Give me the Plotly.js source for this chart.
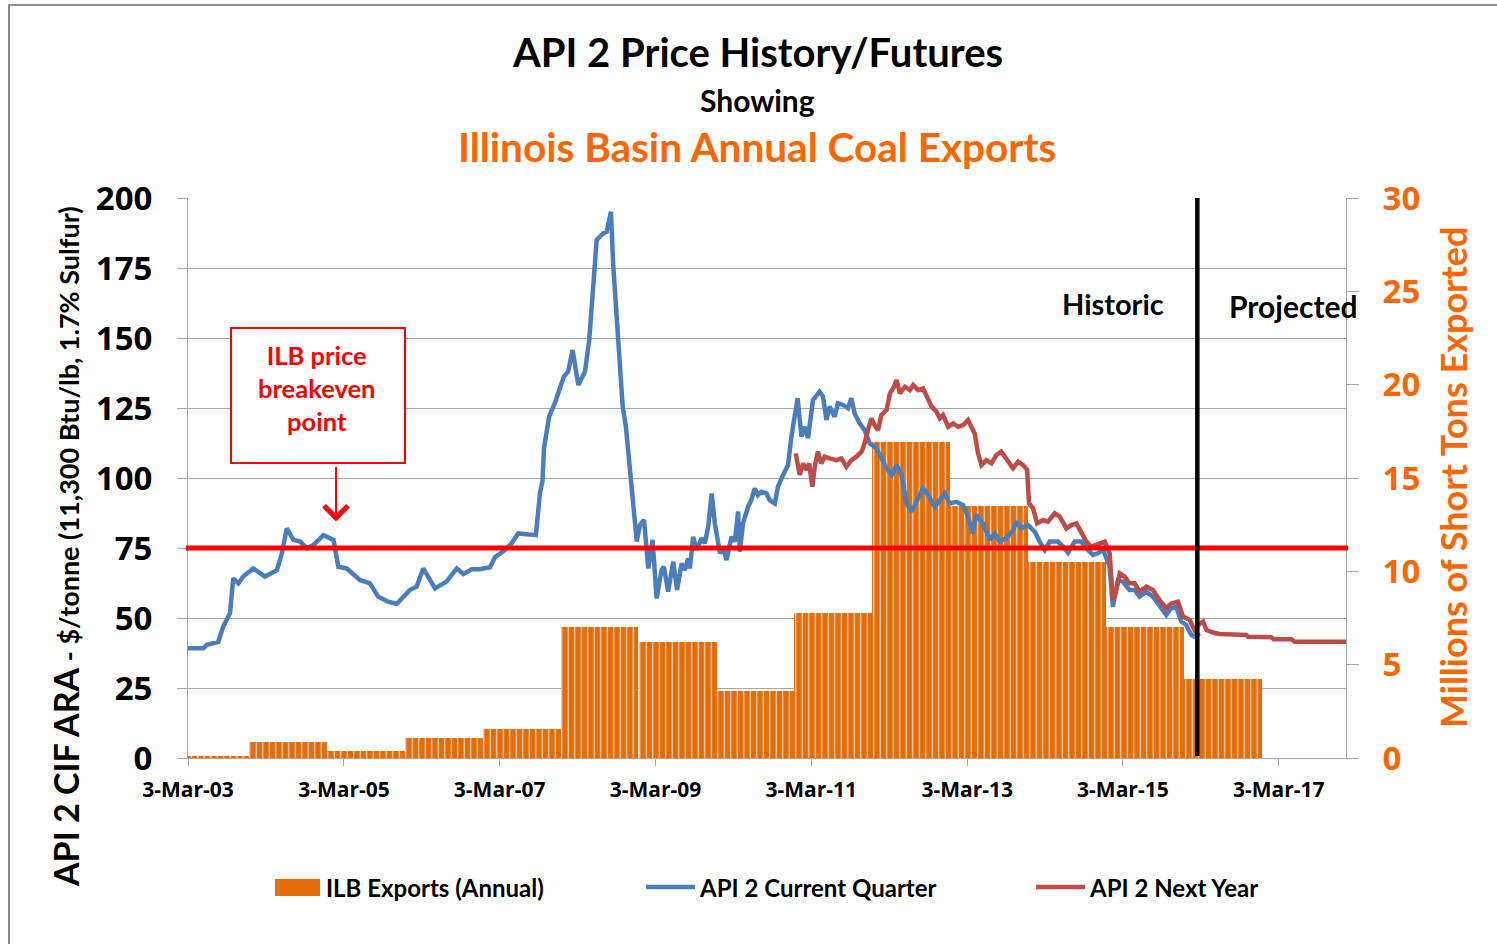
<!DOCTYPE html>
<html>
<head>
<meta charset="utf-8">
<script src="https://cdn.plot.ly/plotly-3.0.1.min.js"></script>
<style>
  html, body { margin: 0; padding: 0; background: #ffffff; }
  #chart { width: 1497px; height: 944px; }
</style>
</head>
<body>
<div id="chart"></div>
<script>
// ---------- DATA ----------
// ILB annual coal exports, millions of short tons
const exportYears  = [2003, 2004, 2005, 2006, 2007, 2008, 2009, 2010, 2011, 2012, 2013, 2014, 2015, 2016];
const exportValues = [0.12, 0.84, 0.37, 1.05, 1.55, 7.02, 6.20, 3.59, 7.75, 16.91, 13.50, 10.52, 7.03, 4.23];

// API 2 Current Quarter ($/tonne)
const currentQtrDates = [
  '2003-03-03','2003-05-14','2003-05-30','2003-06-29','2003-07-23','2003-08-15','2003-09-16','2003-10-01','2003-10-25','2003-11-17',
  '2004-01-03','2004-02-27','2004-04-23','2004-05-16','2004-06-08','2004-07-09','2004-08-10','2004-09-10','2004-10-11','2004-11-27',
  '2005-01-13','2005-02-05','2005-03-16','2005-05-17','2005-07-03','2005-08-11','2005-09-27','2005-11-05',
  '2006-01-06','2006-02-07','2006-03-10','2006-05-04','2006-06-27','2006-08-14','2006-09-14','2006-10-23','2006-12-01',
  '2007-01-17','2007-02-09','2007-03-28','2007-04-28','2007-05-29','2007-07-07','2007-08-20','2007-09-08','2007-09-20','2007-09-27',
  '2007-10-21','2007-11-17','2007-12-11','2007-12-29',
  '2008-01-18','2008-02-08','2008-03-06','2008-04-06','2008-04-26','2008-05-12','2008-05-31','2008-07-01','2008-07-17','2008-08-06',
  '2008-08-16','2008-09-09','2008-09-30','2008-10-15','2008-10-30','2008-11-11','2008-11-17','2008-12-05','2008-12-20',
  '2009-01-08','2009-01-28','2009-02-17','2009-03-08','2009-03-31','2009-04-11','2009-05-01','2009-05-25','2009-06-12','2009-07-03',
  '2009-07-18','2009-08-03','2009-08-11','2009-08-26','2009-09-11','2009-10-05','2009-10-20','2009-11-05','2009-11-21','2009-12-06','2009-12-30',
  '2010-01-14','2010-01-30','2010-02-22','2010-03-10','2010-03-25','2010-04-02','2010-04-17','2010-05-11','2010-05-26','2010-06-11',
  '2010-06-26','2010-07-12','2010-08-05','2010-08-20','2010-09-13','2010-09-28','2010-10-22','2010-11-14','2010-11-30','2010-12-16','2010-12-29',
  '2011-01-16','2011-02-01','2011-02-16','2011-03-11','2011-04-11','2011-04-27','2011-05-13','2011-05-28','2011-06-21','2011-07-06',
  '2011-07-30','2011-08-22','2011-09-07','2011-09-22','2011-10-16','2011-11-08','2011-12-02',
  '2012-01-02','2012-01-26','2012-02-19','2012-03-14','2012-04-06','2012-04-29','2012-05-23','2012-06-15','2012-07-09','2012-08-08',
  '2012-09-01','2012-10-02','2012-10-26','2012-11-18','2012-12-11',
  '2013-01-12','2013-02-12','2013-03-07','2013-03-28','2013-04-15','2013-05-16','2013-06-17','2013-07-10','2013-08-02','2013-09-03',
  '2013-10-04','2013-10-20','2013-11-12','2013-12-13',
  '2014-01-14','2014-02-06','2014-03-02','2014-03-25','2014-05-03','2014-05-26','2014-06-19','2014-07-20','2014-08-20','2014-09-13',
  '2014-10-14','2014-11-06','2014-11-30','2014-12-31',
  '2015-01-15','2015-02-08','2015-03-03','2015-04-03','2015-04-27','2015-05-20','2015-06-21','2015-07-22','2015-08-22','2015-09-22',
  '2015-10-16','2015-11-08','2015-12-02','2015-12-25',
  '2016-01-18','2016-02-02','2016-02-27'
];
const currentQtrValues = [
  39.2,39.2,40.4,41.0,41.5,46.9,51.7,64.2,62.4,64.8,
  67.7,64.8,67.1,73.1,82.0,77.9,77.3,74.9,76.1,79.6,
  77.9,68.3,67.7,63.6,62.4,57.6,55.8,55.0,
  60.0,61.2,67.7,60.6,63.0,67.7,65.7,67.4,67.4,
  68.1,71.7,74.3,76.7,80.2,80.0,79.6,94.5,99.0,110.6,
  121.9,126.7,132.0,136.2,
  138.0,145.7,133.2,138.0,149.3,163.6,185.0,187.4,188.0,195.1,
  176.7,149.3,125.5,118.3,105.2,98.1,89.8,77.3,83.2,
  85.0,67.7,77.9,57.0,67.1,68.3,59.4,70.1,60.0,69.5,
  67.1,71.3,67.7,79.0,74.3,78.5,76.7,82.6,94.5,83.8,73.1,
  74.9,70.7,79.0,77.3,88.0,73.7,83.8,89.8,92.1,96.3,
  93.9,95.1,94.5,92.1,90.9,96.9,101.1,104.6,114.8,121.9,128.5,
  114.8,118.3,114.2,127.9,130.8,129.1,120.7,125.5,121.9,126.7,
  126.1,124.9,128.5,123.1,119.5,117.1,112.4,
  110.6,107.0,103.5,101.1,104.6,101.1,90.9,88.0,92.1,96.3,
  93.9,89.8,92.1,94.5,90.9,
  91.5,90.3,86.2,80.2,86.8,83.8,77.9,80.2,77.3,78.5,
  81.4,84.4,82.0,83.2,
  80.8,77.3,74.3,77.3,77.3,75.5,73.3,77.3,77.3,74.9,
  72.5,73.1,74.3,68.3,
  54.0,63.6,63.0,60.0,60.0,57.6,59.4,57.6,54.6,51.1,
  53.5,54.0,48.7,47.5,
  43.9,43.3,44.5
];

// API 2 Next Year ($/tonne)
const nextYearDates = [
  '2010-12-20',
  '2011-01-08','2011-01-24','2011-02-09','2011-02-21','2011-03-08','2011-03-19','2011-04-03','2011-04-19','2011-05-05','2011-05-28',
  '2011-06-29','2011-07-22','2011-08-15','2011-09-07','2011-10-01','2011-10-25','2011-11-08','2011-11-24','2011-12-10','2011-12-25',
  '2012-01-10','2012-01-26','2012-02-19','2012-03-06','2012-03-25','2012-04-06','2012-04-22','2012-05-15','2012-06-07','2012-06-23',
  '2012-07-16','2012-08-08','2012-08-27','2012-09-17','2012-10-10','2012-10-26','2012-11-10','2012-12-04','2012-12-27',
  '2013-01-20','2013-02-12','2013-03-07','2013-04-07','2013-04-23','2013-05-09','2013-06-01','2013-06-25','2013-07-18','2013-08-10',
  '2013-09-03','2013-10-04','2013-10-28','2013-11-20','2013-12-09','2013-12-18',
  '2014-01-06','2014-01-25','2014-02-22','2014-03-17','2014-04-17','2014-05-11','2014-06-11','2014-07-04','2014-07-28','2014-08-20',
  '2014-09-13','2014-10-06','2014-10-30','2014-11-22','2014-12-08','2014-12-31',
  '2015-01-15','2015-02-01','2015-02-16','2015-03-11','2015-04-03','2015-04-27','2015-05-20','2015-06-21','2015-07-22','2015-08-22',
  '2015-09-22','2015-10-16','2015-11-16','2015-12-10',
  '2016-01-10','2016-02-02','2016-02-27','2016-03-13','2016-03-29','2016-04-28','2016-05-30','2016-10-02','2016-10-10',
  '2017-01-27','2017-02-07','2017-05-01','2017-05-16','2018-01-15'
];
const nextYearValues = [
  108.8,
  101.1,105.2,102.9,105.2,96.9,104.0,109.4,105.2,107.6,107.0,
  106.4,107.0,104.0,106.4,107.6,109.4,112.4,117.1,121.3,118.9,
  117.1,122.5,124.3,130.2,132.6,135.0,130.2,132.6,131.4,133.2,
  131.4,132.0,129.1,125.5,123.7,121.3,122.5,118.3,119.5,
  118.3,118.9,120.7,115.9,108.8,104.6,106.4,105.2,108.2,109.4,
  107.0,103.5,105.8,104.6,102.9,90.9,
  89.1,83.8,85.0,84.4,87.4,86.2,82.0,83.2,83.8,80.8,
  77.3,75.5,76.1,76.7,77.3,73.1,
  56.4,60.0,66.0,64.8,62.4,62.4,59.4,61.2,60.0,56.4,
  53.5,55.2,55.8,50.5,
  49.3,45.7,48.1,48.7,45.7,44.8,44.3,43.9,43.3,
  43.1,42.4,42.4,41.5,41.5
];

const breakevenPrice = 75;
const historicEndDate = '2016-02-15';

// ---------- STYLE ----------
const barOrange = '#E46C0A';
const textOrange = '#FF6600';
const blue = '#4A7EBB';
const red = '#BE4B48';
const grid = '#A6A6A6';
const titleFont = 'Lato, "Open Sans", sans-serif';
const tickFontFam = '"Open Sans", "Noto Sans", sans-serif';
const DAY = 86400000;

const traces = [
  {
    type: 'bar', name: 'ILB Exports (Annual)',
    x: exportYears.map(y => y + '-01-01'),
    y: exportValues,
    width: 365 * DAY, offset: -18 * DAY,
    xaxis: 'x', yaxis: 'y',
    marker: {
      color: barOrange, line: { width: 0 },
      pattern: { shape: '|', fgcolor: '#FBE0C8', bgcolor: barOrange, size: 6.5, solidity: 0.18, fillmode: 'replace' }
    },
    hoverinfo: 'skip'
  },
  {
    type: 'scatter', mode: 'lines', name: 'API 2 Current Quarter',
    x: currentQtrDates, y: currentQtrValues, xaxis: 'x', yaxis: 'y2',
    line: { color: blue, width: 4.5 }
  },
  {
    type: 'scatter', mode: 'lines', name: 'API 2 Next Year',
    x: nextYearDates, y: nextYearValues, xaxis: 'x', yaxis: 'y2',
    line: { color: red, width: 4.5 }
  }
];

// helpers for pixel-like paper placement of decorations
const L = 188, T = 198, W = 1158, H = 560;
const px = v => (v - L) / W;
const py = v => (T + H - v) / H;

const annotations = [
  { text: 'API 2 Price History/Futures', xref: 'paper', yref: 'paper', x: px(757), y: py(52), showarrow: false,
    font: { family: titleFont, size: 40, weight: 700, color: '#000' }, xanchor: 'center', yanchor: 'middle' },
  { text: 'Showing', xref: 'paper', yref: 'paper', x: px(757), y: py(100), showarrow: false,
    font: { family: titleFont, size: 30, weight: 700, color: '#000' }, xanchor: 'center', yanchor: 'middle' },
  { text: 'Illinois Basin Annual Coal Exports', xref: 'paper', yref: 'paper', x: px(757), y: py(146), showarrow: false,
    font: { family: titleFont, size: 40.5, weight: 700, color: textOrange }, xanchor: 'center', yanchor: 'middle' },
  { text: 'API 2 CIF ARA<span style="font-size:27px"> - $/tonne (11,300 Btu/lb, 1.7% Sulfur)</span>',
    xref: 'paper', yref: 'paper', x: px(65), y: py(547), showarrow: false, textangle: -90,
    font: { family: titleFont, size: 34, weight: 700, color: '#000' }, xanchor: 'center', yanchor: 'middle' },
  { text: 'Millions of Short Tons Exported', xref: 'paper', yref: 'paper', x: px(1453), y: py(478), showarrow: false, textangle: -90,
    font: { family: titleFont, size: 36, weight: 700, color: textOrange }, xanchor: 'center', yanchor: 'middle' },
  { text: 'Historic', xref: 'paper', yref: 'paper', x: px(1113), y: py(303), showarrow: false,
    font: { family: titleFont, size: 29, weight: 700, color: '#000' }, xanchor: 'center', yanchor: 'middle' },
  { text: 'Projected', xref: 'paper', yref: 'paper', x: px(1293), y: py(306), showarrow: false,
    font: { family: titleFont, size: 30, weight: 700, color: '#000' }, xanchor: 'center', yanchor: 'middle' },
  { text: 'ILB price<br>breakeven<br>point', xref: 'paper', yref: 'paper', x: px(316), y: py(388), showarrow: false,
    font: { family: titleFont, size: 25.5, weight: 700, color: '#FF0000' }, xanchor: 'center', yanchor: 'middle', align: 'center' },
  { text: '', xref: 'x', yref: 'y2', x: '2005-01-25', y: 84.5, ax: 0, ay: -56, showarrow: true,
    arrowhead: 4, arrowsize: 2.3, arrowwidth: 2, arrowcolor: '#FF0000', standoff: 0 },
  // legend texts
  { text: 'ILB Exports (Annual)', xref: 'paper', yref: 'paper', x: px(324), y: py(887), showarrow: false,
    font: { family: titleFont, size: 24, weight: 700, color: '#000' }, xanchor: 'left', yanchor: 'middle' },
  { text: 'API 2 Current Quarter', xref: 'paper', yref: 'paper', x: px(697), y: py(887), showarrow: false,
    font: { family: titleFont, size: 24, weight: 700, color: '#000' }, xanchor: 'left', yanchor: 'middle' },
  { text: 'API 2 Next Year', xref: 'paper', yref: 'paper', x: px(1087), y: py(887), showarrow: false,
    font: { family: titleFont, size: 24, weight: 700, color: '#000' }, xanchor: 'left', yanchor: 'middle' }
];

const shapes = [
  // outer chart frame
  { type: 'rect', xref: 'paper', yref: 'paper', x0: px(9), x1: px(1510), y0: py(960), y1: py(5),
    line: { color: '#8C8C8C', width: 2 }, fillcolor: 'rgba(0,0,0,0)', layer: 'below' },
  // breakeven line
  { type: 'line', xref: 'paper', yref: 'y2', x0: px(186), x1: px(1348), y0: breakevenPrice, y1: breakevenPrice,
    line: { color: '#FF0000', width: 5 } },
  // historic / projected divider
  { type: 'line', xref: 'x', yref: 'paper', x0: historicEndDate, x1: historicEndDate, y0: py(756), y1: 1,
    line: { color: '#000000', width: 4.5 } },
  // breakeven callout box
  { type: 'rect', xref: 'paper', yref: 'paper', x0: px(231), x1: px(405), y0: py(463), y1: py(328),
    line: { color: '#FF0000', width: 2 }, fillcolor: '#ffffff' },
  // legend swatches
  { type: 'rect', xref: 'paper', yref: 'paper', x0: px(275), x1: px(320), y0: py(896), y1: py(879),
    fillcolor: barOrange, line: { width: 0 } },
  { type: 'line', xref: 'paper', yref: 'paper', x0: px(646), x1: px(695), y0: py(887), y1: py(887),
    line: { color: blue, width: 4.5 } },
  { type: 'line', xref: 'paper', yref: 'paper', x0: px(1036), x1: px(1085), y0: py(887), y1: py(887),
    line: { color: red, width: 4.5 } }
];

const layout = {
  width: 1497, height: 944,
  margin: { l: 188, r: 151, t: 198, b: 186, pad: 0 },
  paper_bgcolor: '#ffffff', plot_bgcolor: '#ffffff',
  showlegend: false,
  bargap: 0,
  xaxis: {
    type: 'date', range: ['2003-03-03', '2018-01-12'],
    tick0: '2003-03-03', dtick: 'M24', tickformat: '%-d-%b-%y',
    ticks: 'outside', ticklen: 7, tickcolor: grid, tickwidth: 1,
    showline: true, linecolor: grid, linewidth: 1,
    showgrid: false, zeroline: false,
    tickfont: { family: tickFontFam, size: 21, weight: 700, color: '#000' },
    ticklabelstandoff: 6
  },
  yaxis: {
    range: [0, 30], dtick: 5, side: 'right',
    ticks: 'outside', ticklen: 12, tickcolor: grid, tickwidth: 1,
    showline: true, linecolor: grid, linewidth: 1,
    showgrid: false, zeroline: false,
    tickfont: { family: tickFontFam, size: 33, weight: 700, color: textOrange },
    ticklabelstandoff: 17
  },
  yaxis2: {
    range: [0, 200], dtick: 25, side: 'left', overlaying: 'y', anchor: 'x',
    ticks: 'outside', ticklen: 10, tickcolor: grid, tickwidth: 1,
    showline: true, linecolor: grid, linewidth: 1,
    showgrid: true, gridcolor: grid, gridwidth: 1, zeroline: false,
    tickfont: { family: tickFontFam, size: 33, weight: 700, color: '#000' },
    ticklabelstandoff: 18
  },
  annotations: annotations,
  shapes: shapes
};

Plotly.newPlot('chart', traces, layout, { displayModeBar: false, staticPlot: true });
</script>
</body>
</html>
